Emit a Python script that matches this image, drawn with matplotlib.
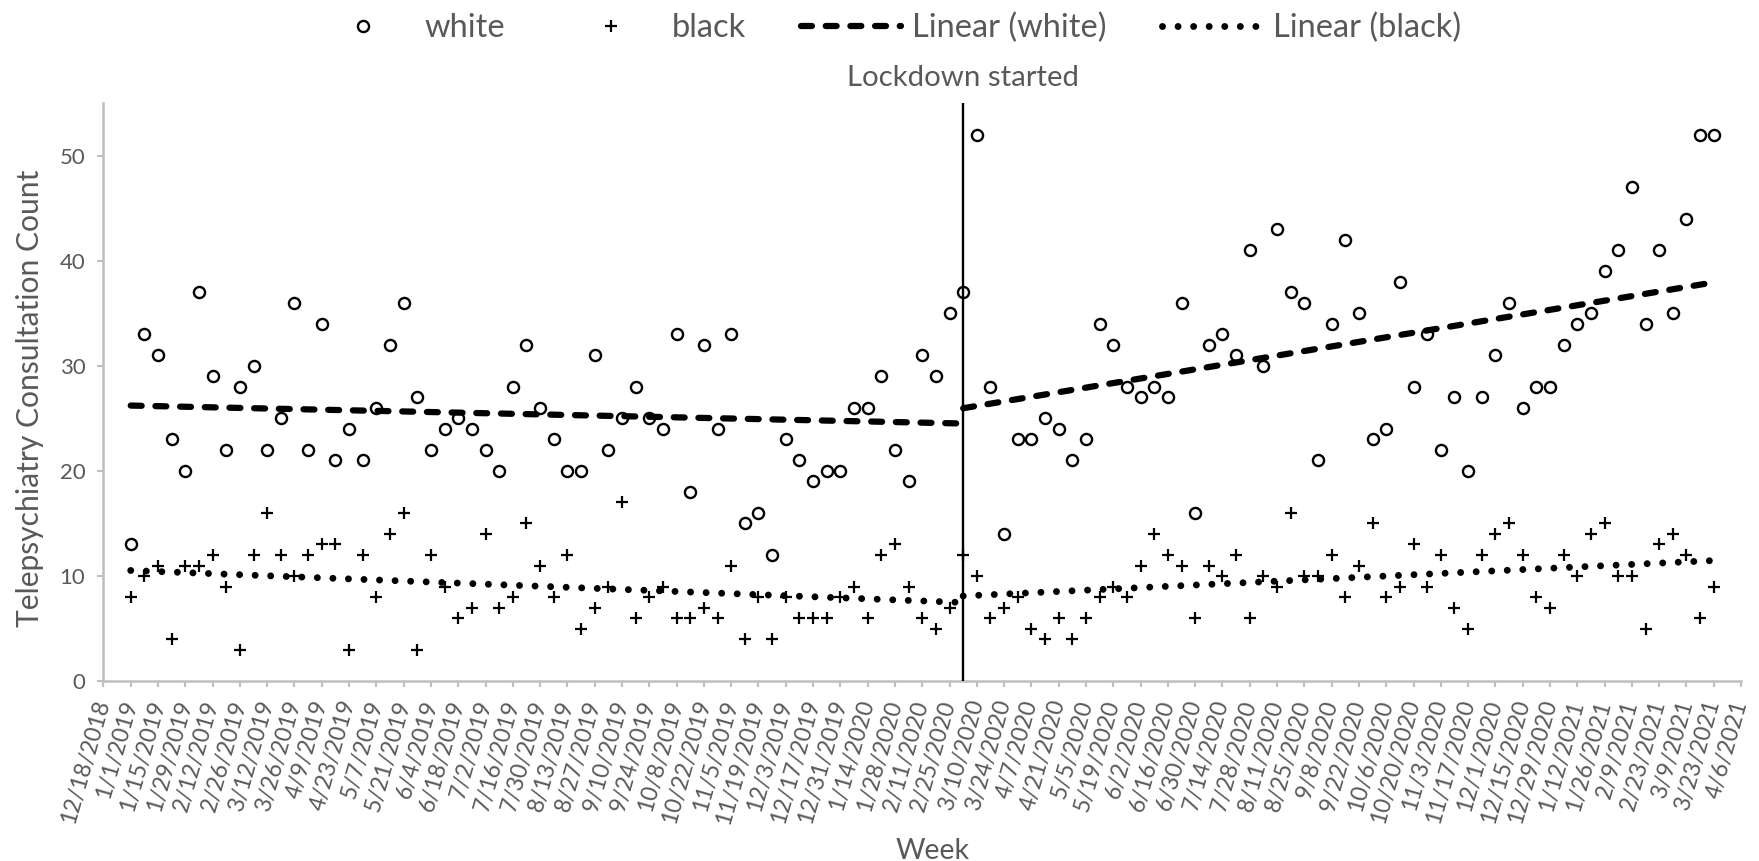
import matplotlib
matplotlib.use("Agg")
import matplotlib.pyplot as plt
import matplotlib.dates as mdates
import matplotlib.transforms as mtransforms
from matplotlib.lines import Line2D
import numpy as np
import pandas as pd

# Weekly telepsychiatry consultation counts, starting 1/1/2019
first_week = "2019-01-01"
lockdown_week = "2020-03-03"

white = [13, 33, 31, 23, 20, 37, 29, 22, 28, 30, 22, 25, 36, 22, 34, 21, 24, 21, 26, 32,
         36, 27, 22, 24, 25, 24, 22, 20, 28, 32, 26, 23, 20, 20, 31, 22, 25, 28, 25, 24,
         33, 18, 32, 24, 33, 15, 16, 12, 23, 21, 19, 20, 20, 26, 26, 29, 22, 19, 31, 29,
         35, 37,
         52, 28, 14, 23, 23, 25, 24, 21, 23, 34, 32, 28, 27, 28, 27, 36, 16, 32, 33, 31,
         41, 30, 43, 37, 36, 21, 34, 42, 35, 23, 24, 38, 28, 33, 22, 27, 20, 27, 31, 36,
         26, 28, 28, 32, 34, 35, 39, 41, 47, 34, 41, 35, 44, 52, 52]

black = [8, 10, 11, 4, 11, 11, 12, 9, 3, 12, 16, 12, 10, 12, 13, 13, 3, 12, 8, 14,
         16, 3, 12, 9, 6, 7, 14, 7, 8, 15, 11, 8, 12, 5, 7, 9, 17, 6, 8, 9,
         6, 6, 7, 6, 11, 4, 8, 4, 8, 6, 6, 6, 8, 9, 6, 12, 13, 9, 6, 5,
         7, 12,
         10, 6, 7, 8, 5, 4, 6, 4, 6, 8, 9, 8, 11, 14, 12, 11, 6, 11, 10, 12,
         6, 10, 9, 16, 10, 10, 12, 8, 11, 15, 8, 9, 13, 9, 12, 7, 5, 12, 14, 15,
         12, 8, 7, 12, 10, 14, 15, 10, 10, 5, 13, 14, 12, 6, 9]

tick_labels = [
    "12/18/2018",
    "1/1/2019", "1/15/2019", "1/29/2019", "2/12/2019", "2/26/2019", "3/12/2019",
    "3/26/2019", "4/9/2019", "4/23/2019", "5/7/2019", "5/21/2019", "6/4/2019",
    "6/18/2019", "7/2/2019", "7/16/2019", "7/30/2019", "8/13/2019", "8/27/2019",
    "9/10/2019", "9/24/2019", "10/8/2019", "10/22/2019", "11/5/2019", "11/19/2019",
    "12/3/2019", "12/17/2019", "12/31/2019",
    "1/14/2020", "1/28/2020", "2/11/2020", "2/25/2020", "3/10/2020", "3/24/2020",
    "4/7/2020", "4/21/2020", "5/5/2020", "5/19/2020", "6/2/2020", "6/16/2020",
    "6/30/2020", "7/14/2020", "7/28/2020", "8/11/2020", "8/25/2020", "9/8/2020",
    "9/22/2020", "10/6/2020", "10/20/2020", "11/3/2020", "11/17/2020", "12/1/2020",
    "12/15/2020", "12/29/2020",
    "1/12/2021", "1/26/2021", "2/9/2021", "2/23/2021", "3/9/2021", "3/23/2021",
    "4/6/2021",
]

y_ticks = [0, 10, 20, 30, 40, 50]

GRAY_TEXT = "#595959"
AXIS_GRAY = "#bfbfbf"

plt.rcParams["font.family"] = ["Lato", "DejaVu Sans"]

weeks = pd.date_range(first_week, periods=len(white), freq="7D")
xnum = mdates.date2num(weeks.to_pydatetime())
tick_dates = mdates.date2num(pd.to_datetime(tick_labels, format="%m/%d/%Y").to_pydatetime())
lock_x = mdates.date2num(pd.Timestamp(lockdown_week).to_pydatetime())

white = np.array(white, dtype=float)
black = np.array(black, dtype=float)
split = int(np.searchsorted(xnum, lock_x))  # index of the lockdown week

fig = plt.figure(figsize=(17.59, 8.61), dpi=100)
ax = fig.add_axes([0.0588, 0.209, 0.931, 0.671])

circle_style = dict(linestyle="none", marker="o", markersize=8, markerfacecolor="white",
                    markeredgecolor="black", markeredgewidth=1.7)
plus_style = dict(linestyle="none", marker="+", markersize=8.5, markeredgecolor="black",
                  markeredgewidth=1.6)

ax.plot(xnum, white, zorder=3, **circle_style)
ax.plot(xnum, black, zorder=3, **plus_style)

dash_style = dict(color="black", linewidth=4.5, linestyle=(0, (1.75, 2.2)),
                  dash_capstyle="round")
dot_style = dict(color="black", linewidth=5.0, linestyle=(0, (0.001, 2.24)),
                 dash_capstyle="round")


def trend(x, y):
    slope, intercept = np.polyfit(x, y, 1)
    xs = np.array([x[0], x[-1]])
    return xs, slope * xs + intercept


# separate linear trends before and after the lockdown week
for seg in (slice(0, split + 1), slice(split, None)):
    xs, ys = trend(xnum[seg], white[seg])
    ax.plot(xs, ys, zorder=4, **dash_style)
    xs, ys = trend(xnum[seg], black[seg])
    ax.plot(xs, ys, zorder=4, **dot_style)

ax.axvline(lock_x, color="black", linewidth=1.7, zorder=5)
ax.text(lock_x, 1.043, "Lockdown started", transform=ax.get_xaxis_transform(),
        ha="center", va="center", fontsize=21.2, color=GRAY_TEXT)

ax.set_xlim(tick_dates[0], tick_dates[-1])
ax.set_ylim(0, 55)
ax.set_xticks(tick_dates)
ax.set_xticklabels(tick_labels, rotation=74, ha="right", va="center",
                   rotation_mode="anchor", fontsize=16.6, color=GRAY_TEXT)
shift = mtransforms.ScaledTranslation(5 / 100, 0, fig.dpi_scale_trans)
for lab in ax.get_xticklabels():
    lab.set_transform(lab.get_transform() + shift)
ax.set_yticks(y_ticks)
ax.set_yticklabels([str(v) for v in y_ticks], fontsize=16, color=GRAY_TEXT)

for side in ("top", "right"):
    ax.spines[side].set_visible(False)
for side in ("left", "bottom"):
    ax.spines[side].set_color(AXIS_GRAY)
    ax.spines[side].set_linewidth(1.8)
ax.tick_params(axis="both", colors=AXIS_GRAY, width=1.5, length=4, direction="out")
ax.tick_params(axis="x", pad=10, labelcolor=GRAY_TEXT)
ax.tick_params(axis="y", pad=9, labelcolor=GRAY_TEXT)

ax.set_ylabel("Telepsychiatry Consultation Count", fontsize=21.6, color=GRAY_TEXT)
ax.yaxis.set_label_coords(-0.045, 0.49)
ax.yaxis.label.set_va("center")
ax.set_xlabel("Week", fontsize=20.5, color=GRAY_TEXT)
ax.xaxis.set_label_coords(0.506, -0.295)
ax.xaxis.label.set_va("center")

handles = [
    Line2D([], [], **circle_style),
    Line2D([], [], **plus_style),
    Line2D([], [], **dash_style),
    Line2D([], [], **dot_style),
]
labels = ["white", "black", "Linear (white)", "Linear (black)"]
fig.legend(handles, labels, loc="center", bbox_to_anchor=(0.5046, 1 - 28 / 861),
           ncol=4, frameon=False, fontsize=23.5, handlelength=3.05, handletextpad=0.35,
           columnspacing=1.7, labelcolor=GRAY_TEXT)

fig.savefig("out.png", dpi=100)
